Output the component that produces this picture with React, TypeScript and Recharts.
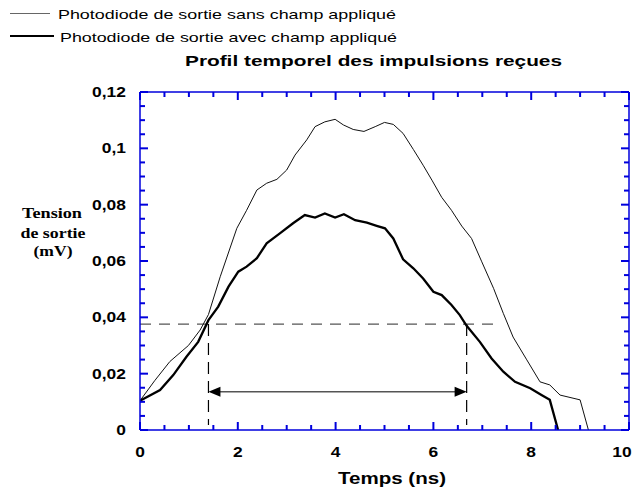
import React from 'react';
import { LineChart, Line, XAxis, YAxis, ReferenceLine } from 'recharts';

// ---- data ----
const sansChampX = [0, 0.3, 0.61, 0.99, 1.23, 1.4, 1.64, 1.98, 2.18, 2.39, 2.59, 2.8, 3.0, 3.17, 3.41, 3.58, 3.78, 3.99, 4.16, 4.36, 4.58, 4.81, 5.0, 5.18, 5.38, 5.59, 5.79, 5.97, 6.17, 6.37, 6.58, 6.78, 6.99, 7.23, 7.43, 7.63, 7.91, 8.18, 8.38, 8.59, 9.0, 9.17];
const sansChampY = [0.0104, 0.0175, 0.0243, 0.03, 0.0355, 0.041, 0.0544, 0.0716, 0.078, 0.0852, 0.0876, 0.089, 0.0923, 0.0976, 0.103, 0.1077, 0.1094, 0.1103, 0.1083, 0.1067, 0.106, 0.1077, 0.1092, 0.1085, 0.1053, 0.0996, 0.094, 0.0887, 0.0826, 0.078, 0.0724, 0.068, 0.0597, 0.0503, 0.0414, 0.033, 0.0249, 0.0171, 0.016, 0.0124, 0.0107, 0];

const avecChampX = [0, 0.41, 0.68, 0.95, 1.19, 1.4, 1.6, 1.81, 2.01, 2.18, 2.39, 2.59, 2.86, 3.13, 3.37, 3.58, 3.78, 3.99, 4.17, 4.4, 4.64, 4.84, 5.01, 5.18, 5.38, 5.59, 5.79, 6.0, 6.17, 6.37, 6.54, 6.68, 6.95, 7.19, 7.43, 7.67, 7.98, 8.21, 8.38, 8.55];
const avecChampY = [0.0104, 0.0142, 0.0195, 0.026, 0.0313, 0.039, 0.0438, 0.0509, 0.0562, 0.058, 0.061, 0.0663, 0.0698, 0.0734, 0.0763, 0.0754, 0.0769, 0.0754, 0.0766, 0.0745, 0.0736, 0.0725, 0.0716, 0.068, 0.0606, 0.0574, 0.0538, 0.0491, 0.0479, 0.0444, 0.0408, 0.037, 0.0313, 0.0254, 0.0207, 0.0171, 0.0148, 0.0124, 0.0107, 0];

const xTicks = [0, 0.5, 1, 1.5, 2, 2.5, 3, 3.5, 4, 4.5, 5, 5.5, 6, 6.5, 7, 7.5, 8, 8.5, 9, 9.5, 10];
const xLabelTicks = [0, 2, 4, 6, 8, 10];
const xLabels = ['0', '2', '4', '6', '8', '10'];

const yTicks = [0, 0.005, 0.01, 0.015, 0.02, 0.025, 0.03, 0.035, 0.04, 0.045, 0.05, 0.055, 0.06, 0.065, 0.07, 0.075, 0.08, 0.085, 0.09, 0.095, 0.1, 0.105, 0.11, 0.115, 0.12];
const yLabelTicks = [0, 0.02, 0.04, 0.06, 0.08, 0.1, 0.12];
const yLabels = ['0', '0,02', '0,04', '0,06', '0,08', '0,1', '0,12'];

const halfLevel = 0.0376; // dashed threshold level
const halfLeft = 1.4;
const halfRight = 6.68;
const halfLineEnd = 7.29;
const dashBottom = 0.0018;
const arrowLevel = 0.0136;

const legendLabels = [
  'Photodiode de sortie sans champ appliqué',
  'Photodiode de sortie avec champ appliqué',
];
const title = 'Profil temporel des impulsions reçues';
const xTitle = 'Temps (ns)';
const yTitle = ['Tension', 'de sortie', '(mV)'];

const sansChamp = sansChampX.map((x, i) => ({ x, y: sansChampY[i] }));
const avecChamp = avecChampX.map((x, i) => ({ x, y: avecChampY[i] }));

// ---- styles ----
const BLUE = '#0000dd';
const TW = 2;
const MAJ = 8;
const MIN = 5;
const SANS = 'Arial, "Liberation Sans", Helvetica, sans-serif';
const SERIF = '"Times New Roman", "Liberation Serif", Times, serif';
const STRETCH = 1.2;

const labelWidth = (s: string, fs: number) => {
  let w = 0;
  for (const c of s) w += c === ',' ? 0.278 : 0.556;
  return w * fs * STRETCH;
};

const near = (a: number, b: number) => Math.abs(a - b) < 1e-6;

const BottomTick = (props: any) => {
  const { x, y, payload } = props;
  const v = payload.value;
  const idx = xLabelTicks.findIndex((t) => near(t, v));
  const major = idx >= 0;
  const label = major ? xLabels[idx] : '';
  const fs = 14.5;
  const tx = near(v, 10) ? x - 7 : x;
  return (
    <g>
      <path d={`M${x},${y}L${x},${y - (major ? MAJ : MIN)}`} stroke={BLUE} strokeWidth={TW} fill="none" />
      {major && (
        <text x={tx} y={y + 27} textAnchor="middle" fontFamily={SANS} fontWeight="bold" fontSize={fs} fill="#000"
          textLength={labelWidth(label, fs)} lengthAdjust="spacingAndGlyphs">{label}</text>
      )}
    </g>
  );
};

const TopTick = (props: any) => {
  const { x, y, payload } = props;
  const v = payload.value;
  const major = xLabelTicks.some((t) => near(t, v));
  return <g><path d={`M${x},${y}L${x},${y + (major ? MAJ : MIN)}`} stroke={BLUE} strokeWidth={TW} fill="none" /></g>;
};

const LeftTick = (props: any) => {
  const { x, y, payload } = props;
  const v = payload.value;
  const idx = yLabelTicks.findIndex((t) => near(t, v));
  const major = idx >= 0;
  const label = major ? yLabels[idx] : '';
  const fs = 14.5;
  return (
    <g>
      <path d={`M${x},${y}L${x + (major ? MAJ : MIN)},${y}`} stroke={BLUE} strokeWidth={TW} fill="none" />
      {major && (
        <text x={x - 14} y={y + 5} textAnchor="end" fontFamily={SANS} fontWeight="bold" fontSize={fs} fill="#000"
          textLength={labelWidth(label, fs)} lengthAdjust="spacingAndGlyphs">{label}</text>
      )}
    </g>
  );
};

const RightTick = (props: any) => {
  const { x, y, payload } = props;
  const v = payload.value;
  const major = yLabelTicks.some((t) => near(t, v));
  return <g><path d={`M${x},${y}L${x - (major ? MAJ : MIN)},${y}`} stroke={BLUE} strokeWidth={TW} fill="none" /></g>;
};

const ArrowShape = (props: any) => {
  const { x1, y1, x2, y2 } = props;
  const L = 12;
  const H = 5;
  return (
    <g>
      <path d={`M${x1 + 4},${y1}L${x2 - 4},${y2}`} stroke="#555" strokeWidth={1.5} fill="none" />
      <polygon points={`${x1},${y1} ${x1 + L},${y1 - H} ${x1 + L},${y1 + H}`} fill="#000" />
      <polygon points={`${x2},${y2} ${x2 - L},${y2 - H} ${x2 - L},${y2 + H}`} fill="#000" />
    </g>
  );
};

export default function App() {
  return (
    <div style={{ position: 'absolute', left: 0, top: 0, width: 638, height: 494, background: '#fff' }}>
      <LineChart width={638} height={494} margin={{ top: 91, right: 8, bottom: 63, left: 139 }}>
        <XAxis xAxisId="b" type="number" dataKey="x" domain={[0, 10]} ticks={xTicks} interval={0}
          allowDataOverflow height={1} axisLine={{ stroke: BLUE, strokeWidth: 1.5 }} tickLine={false}
          tickSize={0} tickMargin={0} tick={<BottomTick />} />
        <XAxis xAxisId="t" orientation="top" type="number" dataKey="x" domain={[0, 10]} ticks={xTicks} interval={0}
          allowDataOverflow height={1} axisLine={{ stroke: BLUE, strokeWidth: 1.5 }} tickLine={false}
          tickSize={0} tickMargin={0} tick={<TopTick />} />
        <YAxis yAxisId="l" type="number" domain={[0, 0.12]} ticks={yTicks} interval={0} allowDataOverflow
          width={1} axisLine={{ stroke: BLUE, strokeWidth: 1.5 }} tickLine={false} tickSize={0} tickMargin={0}
          tick={<LeftTick />} />
        <YAxis yAxisId="r" orientation="right" type="number" domain={[0, 0.12]} ticks={yTicks} interval={0}
          allowDataOverflow width={1} axisLine={{ stroke: BLUE, strokeWidth: 1.5 }} tickLine={false} tickSize={0}
          tickMargin={0} tick={<RightTick />} />

        <ReferenceLine xAxisId="b" yAxisId="l" segment={[{ x: 0, y: halfLevel }, { x: halfLineEnd, y: halfLevel }]}
          stroke="#555" strokeWidth={1.3} strokeDasharray="11 8" />
        <ReferenceLine xAxisId="b" yAxisId="l" segment={[{ x: halfLeft, y: halfLevel }, { x: halfLeft, y: dashBottom }]}
          stroke="#000" strokeWidth={1.2} strokeDasharray="12 7" />
        <ReferenceLine xAxisId="b" yAxisId="l" segment={[{ x: halfRight, y: halfLevel }, { x: halfRight, y: dashBottom }]}
          stroke="#000" strokeWidth={1.2} strokeDasharray="12 7" />
        <ReferenceLine xAxisId="b" yAxisId="l" segment={[{ x: halfLeft, y: arrowLevel }, { x: halfRight, y: arrowLevel }]}
          shape={<ArrowShape />} />

        <Line xAxisId="b" yAxisId="l" data={sansChamp} dataKey="y" type="linear" stroke="#111" strokeWidth={1}
          dot={false} isAnimationActive={false} />
        <Line xAxisId="b" yAxisId="l" data={avecChamp} dataKey="y" type="linear" stroke="#000" strokeWidth={2.3}
          dot={false} isAnimationActive={false} />
      </LineChart>

      <svg width={638} height={494} style={{ position: 'absolute', left: 0, top: 0, pointerEvents: 'none' }}>
        <line x1={10} x2={50} y1={13.5} y2={13.5} stroke="#666" strokeWidth={1.2} />
        <text x={58} y={19} fontFamily={SANS} fontSize={13.5} fill="#000" textLength={338} lengthAdjust="spacingAndGlyphs">{legendLabels[0]}</text>
        <line x1={10} x2={54} y1={36} y2={36} stroke="#000" strokeWidth={2.2} />
        <text x={60} y={41.5} fontFamily={SANS} fontSize={13.5} fill="#000" textLength={337} lengthAdjust="spacingAndGlyphs">{legendLabels[1]}</text>

        <text x={185} y={66} fontFamily={SANS} fontWeight="bold" fontSize={15} fill="#000" textLength={377} lengthAdjust="spacingAndGlyphs">{title}</text>

        <text x={338} y={484} fontFamily={SANS} fontWeight="bold" fontSize={17} fill="#000" textLength={108} lengthAdjust="spacingAndGlyphs">{xTitle}</text>

        <text x={52} y={218} textAnchor="middle" fontFamily={SERIF} fontWeight="bold" fontSize={15} fill="#000" textLength={60} lengthAdjust="spacingAndGlyphs">{yTitle[0]}</text>
        <text x={53} y={238} textAnchor="middle" fontFamily={SERIF} fontWeight="bold" fontSize={15} fill="#000" textLength={65} lengthAdjust="spacingAndGlyphs">{yTitle[1]}</text>
        <text x={53} y={256} textAnchor="middle" fontFamily={SERIF} fontWeight="bold" fontSize={15} fill="#000" textLength={39} lengthAdjust="spacingAndGlyphs">{yTitle[2]}</text>
      </svg>
    </div>
  );
}
